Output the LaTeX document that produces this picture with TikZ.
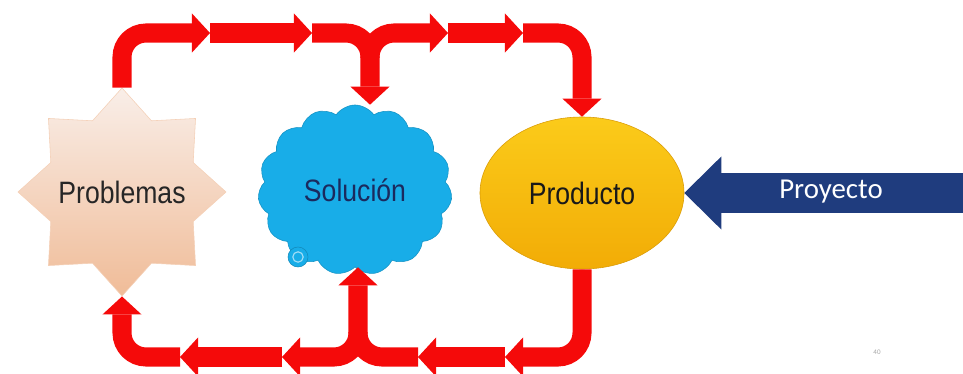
\documentclass[tikz,border=0pt]{standalone}
\usepackage{fontspec}
\usepackage{tikz}
\usetikzlibrary{shapes.geometric, shapes.symbols, arrows.meta, positioning, calc}
\newfontfamily\narrowsans{Liberation Sans}[FakeStretch=0.86]
\newfontfamily\calibrisans{Carlito}
\definecolor{flow_red}{HTML}{F50A0A}
\definecolor{prob_top}{HTML}{F9EEE8}
\definecolor{prob_bot}{HTML}{F0BC98}
\definecolor{sol_blue}{HTML}{18ADE8}
\definecolor{sol_text}{HTML}{1B2A5E}
\definecolor{prod_top}{HTML}{FBCB1A}
\definecolor{prod_bot}{HTML}{F2AC06}
\definecolor{proy_blue}{HTML}{1F3C7E}
\tikzset{
  bigfont/.style={font=\narrowsans\fontsize{22}{24}\selectfont},
  problem/.style={star,star points=8,star point ratio=1.35,minimum size=5.2cm,inner sep=0pt,top color=prob_top,bottom color=prob_bot,draw=prob_bot!70!white,label={[bigfont,text=black!85]center:#1}},
  solution/.style={cloud,cloud puffs=15,cloud puff arc=110,aspect=1.15,minimum width=4.85cm,minimum height=4.25cm,inner sep=0pt,fill=sol_blue,draw=sol_blue!85!black,bigfont,text=sol_text},
  product/.style={ellipse,minimum width=5.1cm,minimum height=3.8cm,top color=prod_top,bottom color=prod_bot,draw=prod_bot!90!black,bigfont,text=black!90},
  bubble/.style={circle,minimum size=0.5cm,inner sep=0pt,fill=sol_blue,draw=sol_blue!80!black},
  flow/.style={line width=0.475cm,flow_red,rounded corners=0.6cm,-{Triangle[length=0.45cm,width=0.975cm,line width=0pt]}},
  bigarrow/.style={line width=0.975cm,proy_blue,-{Triangle[length=0.925cm,width=1.825cm,line width=0pt]}},
  proytext/.style={text=white,font=\calibrisans\fontsize{20.5}{22}\selectfont},
  pagenum/.style={text=black!35,font=\calibrisans\fontsize{5}{6}\selectfont},
}

\begin{document}
\begin{tikzpicture}[x=0.025cm,y=-0.025cm]
	    \useasboundingbox (0,0) rectangle (963,374);
	    \node[problem=Problemas] (prob) at (122,192) {};
	    \node[solution] (sol) at (355,190) {Solución};
	    \node[bubble] (bub) at (298,257) {};
	    \draw[sol_blue!40!white,thick] (bub) circle (0.13cm);
	    \node[product] (prod) at (582,193) {Producto};
	    \coordinate (t1) at (210,33);
	    \coordinate (t2) at (312,33);
	    \coordinate (j1) at (370,33);
	    \coordinate (t3) at (448,33);
	    \coordinate (t4) at (523,33);
	    \coordinate (b1) at (505,357);
	    \coordinate (b2) at (418,357);
	    \coordinate (j2) at (358,357);
	    \coordinate (b3) at (282,357);
	    \coordinate (b4) at (180,357);
	    \draw[flow] (prob.north) |- (t1);
	    \draw[flow] (t1) -- (t2);
	    \draw[flow] (t2) -| (j1 |- sol.north);
	    \draw[flow] ($(j1)+(0,25)$) |- (t3);
	    \draw[flow] (t3) -- (t4);
	    \draw[flow] (t4) -| (prod.north);
	    \draw[flow] (prod.south) |- (b1);
	    \draw[flow] (b1) -- (b2);
	    \draw[flow] (b2) -| (j2 |- sol.south);
	    \draw[flow] ($(j2)+(0,-25)$) |- (b3);
	    \draw[flow] (b3) -- (b4);
	    \draw[flow] (b4) -| (prob.south);
	    \coordinate (east) at (963,193);
	    \draw[bigarrow] (east) -- (prod.east);
	    \node[proytext] (proy) at (831,192) {Proyecto};
	    \node[pagenum] (page) at (877,352) {40};
	\end{tikzpicture}
\end{document}
